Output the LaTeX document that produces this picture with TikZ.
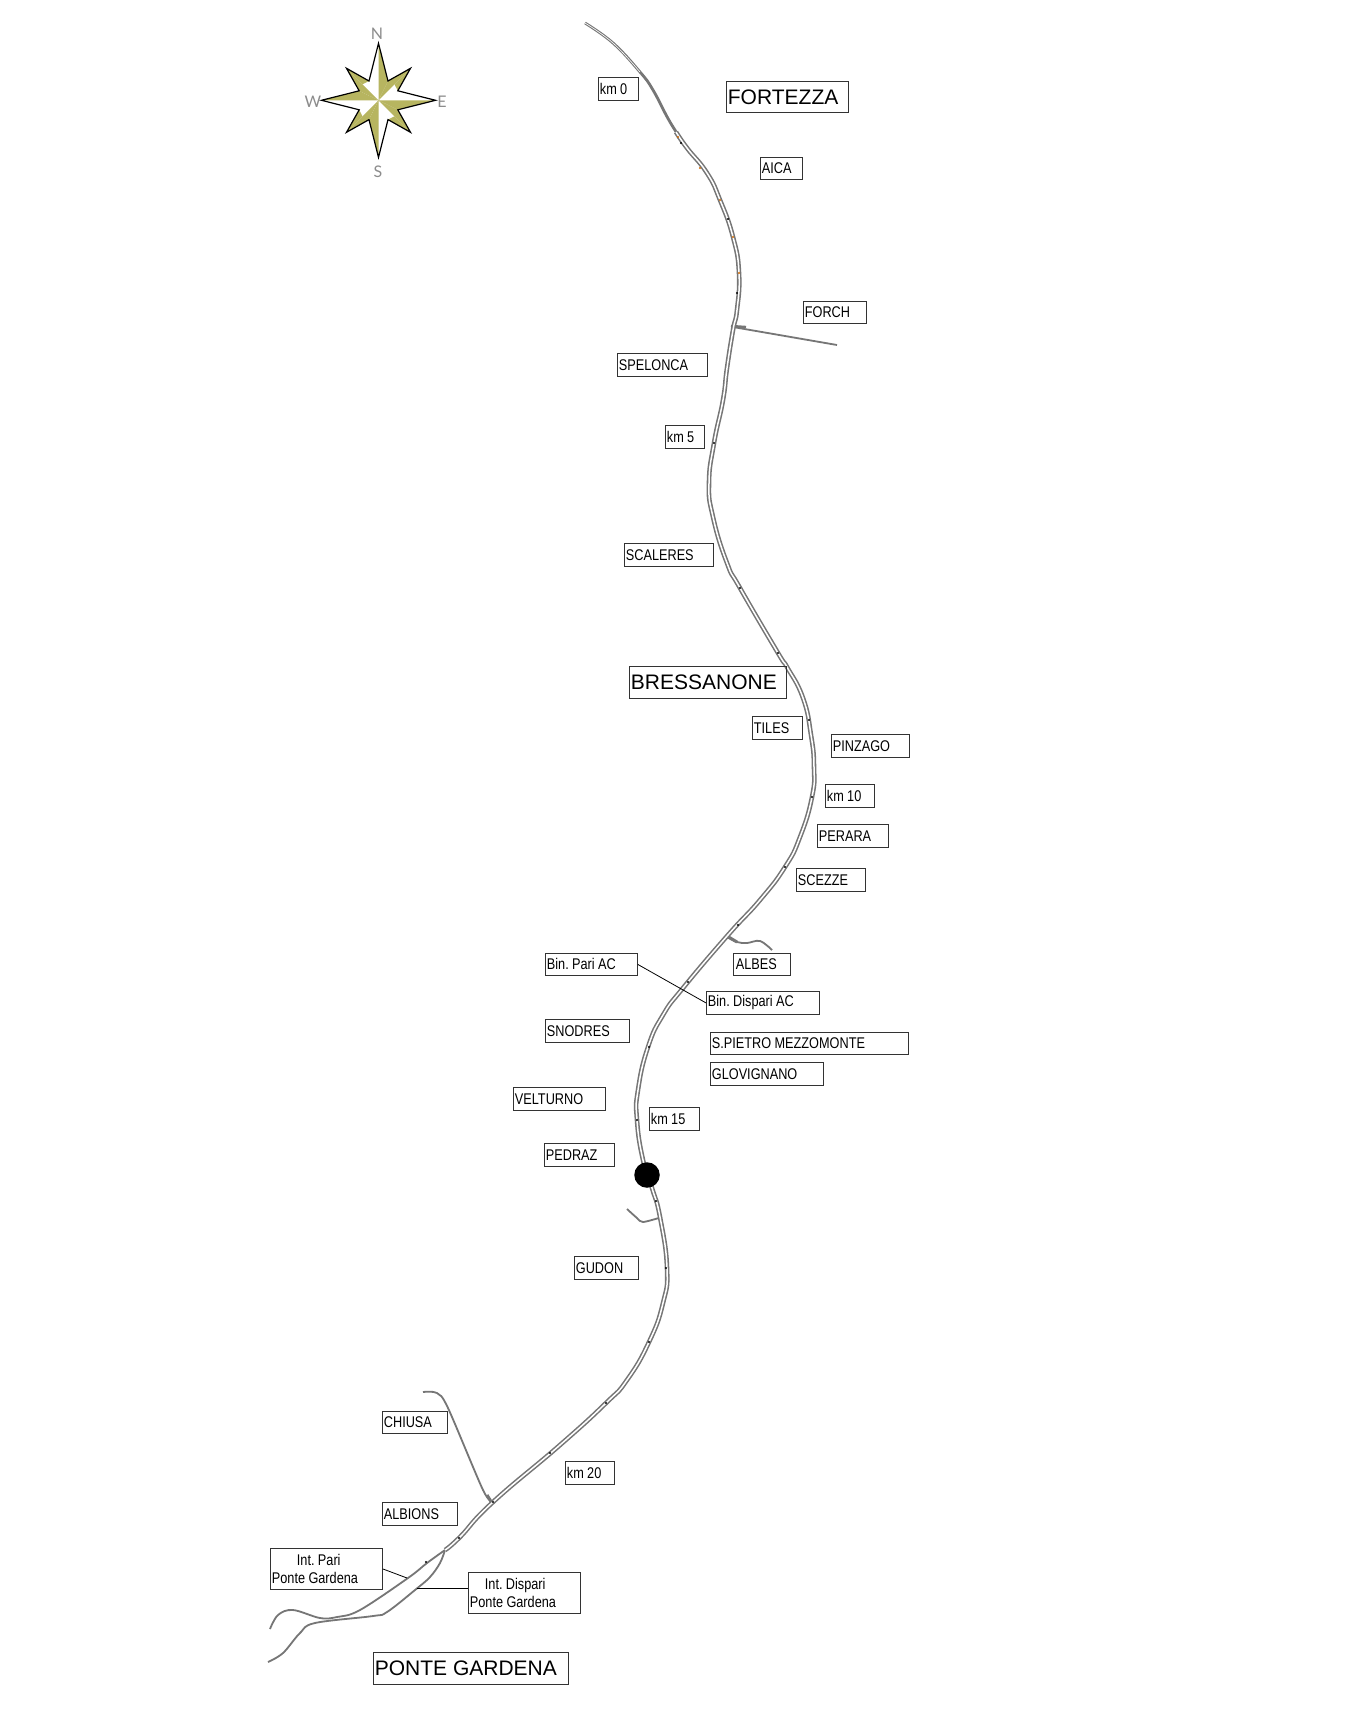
\documentclass[tikz,border=0pt]{standalone}
\usepackage{fontspec}
\setmainfont{Liberation Sans}
\newfontfamily\narrowfont[FakeStretch=0.82]{Liberation Sans}
\newfontfamily\bigfont{Liberation Sans}
\newfontfamily\compassfont{Lato}
\usetikzlibrary{calc}
\definecolor{olivestar}{HTML}{B7B560}
\definecolor{railgray}{HTML}{767676}
\newcommand{\lab}[7][]{%
  \pgfmathsetmacro{\labw}{#5-#3}\pgfmathsetmacro{\labh}{#6-#4}%
  \pgfmathsetmacro{\labt}{#5-#3-3}%
  \node[labelbox,#1,minimum width=\labw pt,minimum height=\labh pt,text width=\labt pt,anchor=north west] (#2) at (#3,#4) {\frenchspacing\spaceskip=3.4pt\relax #7};}
\tikzset{
  x=1pt,y=-1pt,
  labelbox/.style={draw=black!80,line width=0.8pt,inner xsep=1.5pt,inner ysep=0pt,align=left,font=\narrowfont\fontsize{15.5}{17.5}\selectfont,text=black},
  bigbox/.style={font=\bigfont\fontsize{21}{23}\selectfont},
  railouter/.style={draw=railgray,line width=4.6pt,line join=round},
  railinner/.style={draw=white,line width=1.5pt,line join=round},
  railthin/.style={draw=railgray,line width=2.8pt,line join=round},
  railthininner/.style={draw=white,line width=0.6pt},
  branch/.style={draw=railgray,line width=1.8pt,line join=round},
  leader/.style={draw=black,line width=0.8pt},
  tick/.style={fill=black,draw=none,circle,inner sep=0pt,minimum size=2.3pt},
  tickor/.style={fill=orange!80!black,draw=none,circle,inner sep=0pt,minimum size=2.2pt},
  compasstext/.style={text=black!45,font=\compassfont\fontsize{16}{18}\selectfont,inner sep=0pt},
}
\begin{document}
\begin{tikzpicture}
\useasboundingbox (0,0) rectangle (1348,1717);
\fill[white] (0,0) rectangle (1348,1717);

% compass
\begin{scope}[shift={(378.5,100.3)}]
  \fill[olivestar] (0,0) -- (0,-57) -- (9.5,-19.3) -- cycle;
  \fill[olivestar] (0,0) -- (57,0) -- (19.3,9.5) -- cycle;
  \fill[olivestar] (0,0) -- (0,57) -- (-9.5,19.3) -- cycle;
  \fill[olivestar] (0,0) -- (-57,0) -- (-19.3,-9.5) -- cycle;
  \fill[olivestar] (0,0) -- (32,-32) -- (9.5,-19.3) -- cycle;
  \fill[olivestar] (0,0) -- (32,32) -- (19.3,9.5) -- cycle;
  \fill[olivestar] (0,0) -- (-32,32) -- (-9.5,19.3) -- cycle;
  \fill[olivestar] (0,0) -- (-32,-32) -- (-19.3,-9.5) -- cycle;
  \fill[olivestar] (32,-32) -- (19.3,-9.5) -- (16,-16) -- cycle;
  \fill[olivestar] (32,32) -- (9.5,19.3) -- (16,16) -- cycle;
  \fill[olivestar] (-32,32) -- (-19.3,9.5) -- (-16,16) -- cycle;
  \fill[olivestar] (-32,-32) -- (-9.5,-19.3) -- (-16,-16) -- cycle;
  \draw[black,line width=1.2pt,line join=miter] (0,-57) -- (9.5,-19.3) -- (32,-32) -- (19.3,-9.5) -- (57,0) -- (19.3,9.5) -- (32,32) -- (9.5,19.3) -- (0,57) -- (-9.5,19.3) -- (-32,32) -- (-19.3,9.5) -- (-57,0) -- (-19.3,-9.5) -- (-32,-32) -- (-9.5,-19.3) -- cycle;
\end{scope}
\node[compasstext] (cn) at (377,34) {N};
\node[compasstext] (cw) at (313,102) {W};
\node[compasstext] (ce) at (442,102) {E};
\node[compasstext] (cs) at (378,172) {S};

% branches
\draw[branch] (733,327) -- (837,345);
\draw[branch,line width=2.4pt] (731,326) -- (746,327);
\draw[branch] plot[smooth,tension=0.6] coordinates {(727,937) (737,942) (747,943) (760,941) (772,950)};
\draw[branch,line width=3pt] (727,936) -- (737,942);
\draw[branch] plot[smooth,tension=0.5] coordinates {(627,1209) (637,1218) (643,1222) (662,1217)};
\draw[branch] plot[smooth,tension=0.5] coordinates {(423,1392) (437,1393) (448,1408) (483,1490) (493,1502)};
\draw[branch,line width=3pt] (487,1495) -- (492,1503);
\draw[branch] plot[smooth,tension=0.6] coordinates {(445,1550) (427,1563) (408,1578) (360,1610) (337,1617) (320,1618) (293,1610) (278,1615) (270,1629)};
\draw[branch] plot[smooth,tension=0.6] coordinates {(445,1550) (440,1563) (430,1577) (415,1590) (387,1612) (373,1616) (315,1623) (300,1633) (283,1653) (268,1662)};

% main line: upper thin section
\draw[railthin] plot[smooth,tension=0.7] coordinates {(585,23) (613,43) (640,72) (653,90) (670,122) (687,148)};
\draw[railthininner] plot[smooth,tension=0.7] coordinates {(585,23) (613,43) (640,72)};
% main line
\def\railmain{(676,132) (687,148) (707,173) (720,200) (733,237) (739,273) (737,310) (733,330) (727,368) (723,400) (714,443) (709,483) (713,517) (727,563) (740,588) (778,653) (787,667) (803,698) (811,735) (814,767) (812,797) (800,837) (785,867) (760,900) (728,935) (683,988) (663,1015) (648,1047) (638,1090) (637,1120) (643,1160) (652,1188) (660,1217) (667,1268) (663,1303) (649,1342) (627,1380) (606,1403) (560,1445) (493,1502) (460,1537) (445,1550)}
\draw[railouter] plot[smooth,tension=0.85] coordinates {\railmain};
\draw[railinner] plot[smooth,tension=0.85] coordinates {\railmain};

% ticks
\foreach \p/\q in {681/143,728/219,737/293,714/443,740/588,778/653,809/720,812/797,785/867,738/925,688/982,649/1047,637/1120,656/1201,666/1268,649/1342,606/1403,550/1453,493/1502,459/1538,426/1562}{
  \node[tick] at (\p,\q) {};
}
\foreach \p/\q in {678/137,700/168,720/200,733/237,739/273}{
  \node[tickor] at (\p,\q) {};
}

% black circle
\node[fill=black,circle,inner sep=0pt,minimum size=25.5pt] (stop) at (647,1175) {};

% labels
\lab{k0}{598}{77}{638}{100}{km 0}
\lab[bigbox]{fortezza}{726}{81}{848}{112}{FORTEZZA}
\lab{aica}{760}{157}{802}{179}{AICA}
\lab{forch}{803}{301}{866}{323}{FORCH}
\lab{spelonca}{617}{353}{707}{376}{SPELONCA}
\lab{k5}{665}{425}{704}{448}{km 5}
\lab{scaleres}{624}{543}{713}{566}{SCALERES}
\lab[bigbox]{bressanone}{629}{666}{786}{698}{BRESSANONE}
\lab{tiles}{752}{716}{802}{739}{TILES}
\lab{pinzago}{831}{734}{909}{757}{PINZAGO}
\lab{k10}{825}{784}{874}{807}{km 10}
\lab{perara}{817}{824}{888}{847}{PERARA}
\lab{scezze}{796}{868}{865}{891}{SCEZZE}
\lab{albes}{733}{953}{790}{975}{\hspace*{1pt}ALBES}
\lab{binpari}{545}{953}{637}{975}{Bin. Pari AC}
\lab{bindisp}{706}{991}{819}{1014}{Bin. Dispari AC}
\lab{snodres}{545}{1019}{629}{1042}{SNODRES}
\lab{spietro}{710}{1032}{908}{1054}{S.PIETRO MEZZOMONTE}
\lab{glov}{710}{1062}{823}{1085}{GLOVIGNANO}
\lab{velt}{513}{1087}{605}{1110}{VELTURNO}
\lab{k15}{649}{1107}{699}{1130}{km 15}
\lab{pedraz}{544}{1143}{614}{1166}{PEDRAZ}
\lab{gudon}{574}{1256}{638}{1279}{GUDON}
\lab{k20}{565}{1461}{614}{1484}{km 20}
\lab{chiusa}{382}{1411}{447}{1433}{CHIUSA}
\lab{albions}{382}{1502}{457}{1525}{ALBIONS}
\lab{intpari}{270}{1548}{382}{1589}{\hspace*{25pt}Int. Pari\\Ponte Gardena}
\lab{intdisp}{468}{1572}{580}{1613}{\hspace*{15pt}Int. Dispari\\Ponte Gardena}
\lab[bigbox]{ponte}{373}{1652}{568}{1684}{\spaceskip=0pt\relax PONTE GARDENA}

% leaders
\coordinate (ipt) at (407,1578);
\coordinate (idw) at ($(intdisp.north west)!0.39!(intdisp.south west)$);
\coordinate (idt) at (417,1588);
\draw[leader] (binpari.east) -- (bindisp.west);
\draw[leader] (intpari.east) -- (ipt);
\draw[leader] (idw) -- (idt |- idw);
\end{tikzpicture}
\end{document}
